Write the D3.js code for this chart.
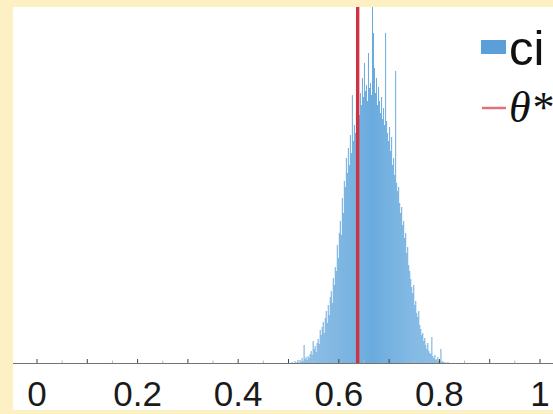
<!DOCTYPE html>
<html><head><meta charset="utf-8">
<script src="https://cdn.jsdelivr.net/npm/d3@7"></script>
<style>html,body{margin:0;padding:0;background:#FDF0C3;}svg{display:block;}</style>
</head><body>
<svg id="c" width="553" height="414"></svg>
<script>
// ---- data ----
const binStart = 0.500;
const binWidth = 0.002;
const counts = [
  0,0,0,1,0,0,2,0,1,3,0,
  3,1,5,2,18,4,6,3,7,5,
  9,12,8,22,14,17,11,20,24,19,
  33,28,36,41,30,45,52,40,58,48,
  66,72,60,85,78,96,92,118,105,130,
  142,128,165,150,182,176,205,190,215,198,
  228,210,268,222,238,230,252,240,262,248,
  270,258,285,266,300,272,278,262,310,275,
  280,268,356,330,295,270,285,258,276,262,
  250,266,244,255,238,330,242,230,222,236,
  212,226,198,205,188,292,180,172,176,160,
  150,156,138,142,125,130,110,116,98,92,
  84,76,70,78,58,62,50,46,52,38,
  34,28,30,22,25,18,14,20,12,10,
  9,26,7,5,8,3,4,6,2,3,
  14,1,2,0,1,0,0,1,0,0
];
const thetaStar = 0.6375;
const majorTicks = [0,0.1,0.2,0.3,0.4,0.5,0.6,0.7,0.8,0.9,1];
const minorTicks = [0.05,0.15,0.25,0.35,0.45,0.55,0.65,0.75,0.85,0.95];
const tickLabels = [0,0.2,0.4,0.6,0.8,1];
const legendItems = ["ci","θ*"];

// ---- drawing ----
const svg = d3.select("#c");
const blue = "#62A7DC", red = "#CD3343";
// white panel
svg.append("rect").attr("x",13).attr("y",7).attr("width",540).attr("height",403).attr("fill","#FFFFFF");

const x = d3.scaleLinear().domain([0,1]).range([37,540]);
const y = d3.scaleLinear().domain([0,356]).range([363,7]);

const bins = counts.map((c,i)=>({x0:binStart+i*binWidth, x1:binStart+(i+1)*binWidth, c}));
svg.append("g").selectAll("rect").data(bins).join("rect")
  .attr("x",d=>x(d.x0))
  .attr("width",d=>Math.max(0.8,x(d.x1)-x(d.x0)))
  .attr("y",d=>y(d.c))
  .attr("height",d=>y(0)-y(d.c))
  .attr("fill",blue)
  .attr("fill-opacity",0.95);

// axis line
svg.append("line").attr("x1",13).attr("x2",553).attr("y1",y(0)+0.5).attr("y2",y(0)+0.5)
  .attr("stroke","#7d716c").attr("stroke-width",1.2);
const ax = svg.append("g");
ax.selectAll(".maj").data(majorTicks).join("line")
  .attr("x1",d=>x(d)).attr("x2",d=>x(d)).attr("y1",y(0)-4).attr("y2",y(0))
  .attr("stroke","#444").attr("stroke-width",1);
ax.selectAll(".min").data(minorTicks).join("line")
  .attr("x1",d=>x(d)).attr("x2",d=>x(d)).attr("y1",y(0)-2.5).attr("y2",y(0))
  .attr("stroke","#bbb").attr("stroke-width",1);
ax.selectAll("text").data(tickLabels).join("text")
  .attr("x",d=>x(d)).attr("y",406)
  .attr("text-anchor","middle")
  .attr("font-family","'Liberation Sans', Arial, sans-serif")
  .attr("font-size",35).attr("fill","#1a1a1a")
  .text(d=>d3.format("~g")(d));

// theta* line
svg.append("line").attr("x1",x(thetaStar)).attr("x2",x(thetaStar)).attr("y1",7).attr("y2",y(0))
  .attr("stroke",red).attr("stroke-width",3.4);

// legend
svg.append("rect").attr("x",481).attr("y",40).attr("width",25).attr("height",14).attr("fill","#5B9FD8");
svg.append("text").attr("x",509).attr("y",65)
  .attr("font-family","'Liberation Sans', Arial, sans-serif").attr("font-size",49).attr("fill","#111")
  .text(legendItems[0]);
svg.append("line").attr("x1",482).attr("x2",506).attr("y1",108).attr("y2",108)
  .attr("stroke","#E0707A").attr("stroke-width",2.5);
svg.append("text").attr("x",509).attr("y",122)
  .attr("font-family","'Liberation Serif', 'Times New Roman', serif").attr("font-style","italic")
  .attr("font-size",44).attr("fill","#111")
  .text(legendItems[1]);

// bottom cream strip
svg.append("rect").attr("x",0).attr("y",410).attr("width",553).attr("height",4).attr("fill","#FDF0C3");
</script>
</body></html>
